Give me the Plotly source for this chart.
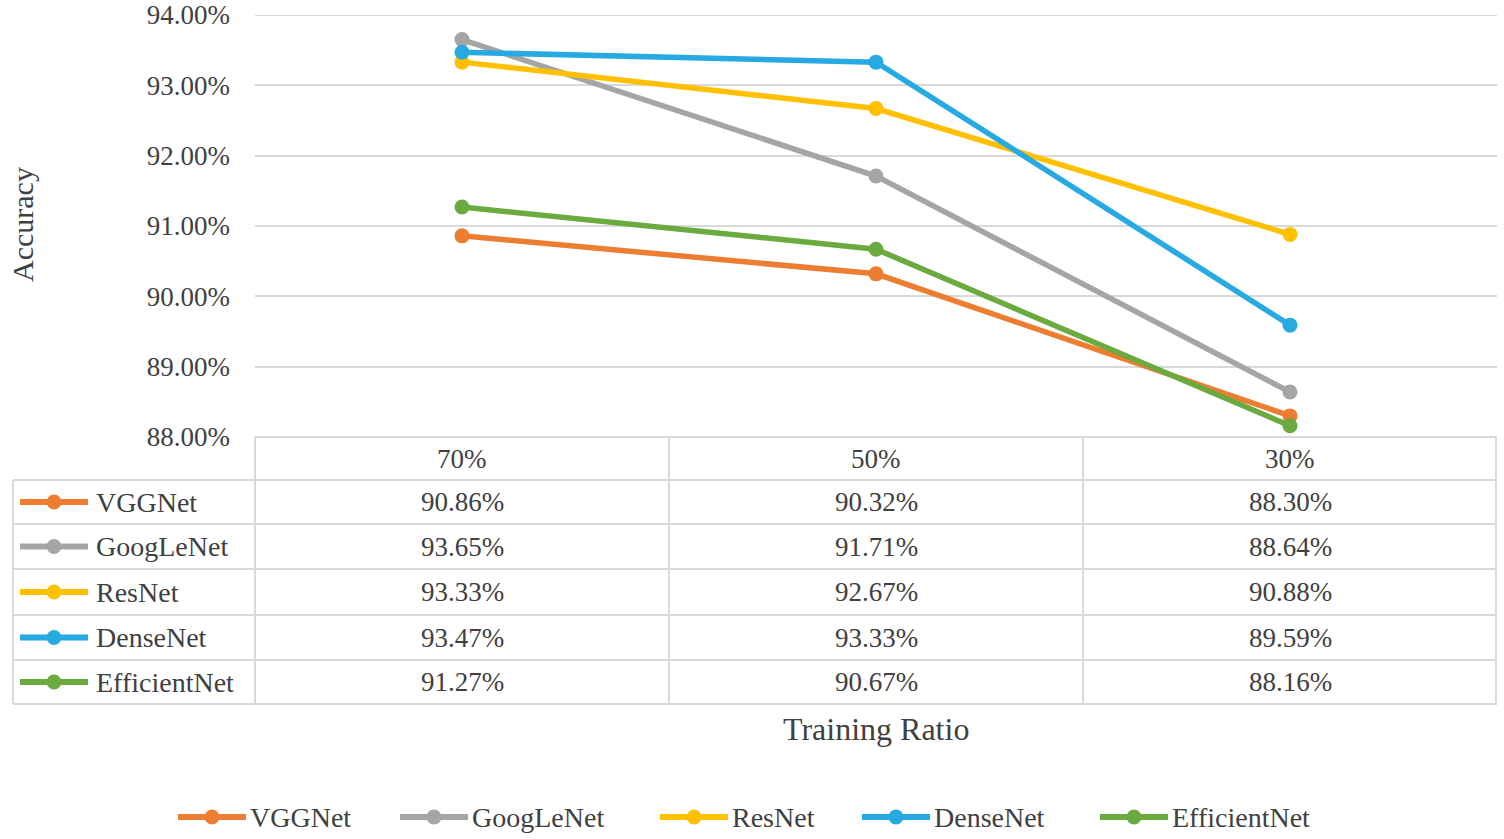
import plotly.graph_objects as go

categories = ["70%", "50%", "30%"]
series_names = ["VGGNet", "GoogLeNet", "ResNet", "DenseNet", "EfficientNet"]
vggnet = [90.86, 90.32, 88.30]
googlenet = [93.65, 91.71, 88.64]
resnet = [93.33, 92.67, 90.88]
densenet = [93.47, 93.33, 89.59]
efficientnet = [91.27, 90.67, 88.16]
colors = ["#ED7D31", "#A5A5A5", "#FFC000", "#27AAE1", "#6AAA3F"]
y_ticks = [88, 89, 90, 91, 92, 93, 94]

series_values = [vggnet, googlenet, resnet, densenet, efficientnet]

W, H = 1504, 839
# page coordinates of the plot area
L, R, T, B = 255, 1497, 15, 437
FONT = "Liberation Serif, Times New Roman, serif"
TXT = "#404040"
GRID = "#D9D9D9"
FS = 27


def px(x):
    return (x - L) / (R - L)


def py(y):
    return (B - y) / (B - T)


fig = go.Figure()
for name, vals, col in zip(series_names, series_values, colors):
    fig.add_trace(go.Scatter(
        x=categories, y=vals, name=name, mode="lines+markers",
        line=dict(color=col, width=5.5),
        marker=dict(color=col, size=15),
        cliponaxis=False, showlegend=False,
    ))

shapes = []
annotations = []


def legend_key(x_start, y_mid, col):
    shapes.append(dict(type="line", xref="paper", yref="paper", x0=px(x_start), x1=px(x_start + 68),
                       y0=py(y_mid), y1=py(y_mid), line=dict(color=col, width=6)))
    shapes.append(dict(type="circle", xref="paper", yref="paper", x0=px(x_start + 26.5), x1=px(x_start + 41.5),
                       y0=py(y_mid + 7.5), y1=py(y_mid - 7.5), fillcolor=col, line=dict(color=col, width=0)))


line = dict(color=GRID, width=2)
# top gridline at 94% (drawn explicitly so it is not dropped at the range edge)
shapes.append(dict(type="line", xref="paper", yref="y", x0=0, x1=1, y0=y_ticks[-1], y1=y_ticks[-1], line=line, layer="below"))
shapes.append(dict(type="line", xref="paper", yref="paper", x0=px(L), x1=px(R), y0=py(437), y1=py(437), line=line))
row_edges = [480, 524, 569, 615, 660, 704]
for ry in row_edges:
    shapes.append(dict(type="line", xref="paper", yref="paper", x0=px(13), x1=px(R), y0=py(ry), y1=py(ry), line=line))
for cx in [255, 669, 1083, 1496]:
    shapes.append(dict(type="line", xref="paper", yref="paper", x0=px(cx), x1=px(cx), y0=py(437), y1=py(704), line=line))
shapes.append(dict(type="line", xref="paper", yref="paper", x0=px(13), x1=px(13), y0=py(480), y1=py(704), line=line))

for c in categories:
    annotations.append(dict(x=c, xref="x", y=py(459), yref="paper", text=c, showarrow=False,
                            font=dict(family=FONT, size=FS, color=TXT), xanchor="center", yanchor="middle"))

for i, (name, vals, col) in enumerate(zip(series_names, series_values, colors)):
    cy = (row_edges[i] + row_edges[i + 1]) / 2
    legend_key(20, cy, col)
    annotations.append(dict(x=px(94), xref="paper", y=py(cy), yref="paper", text=name, showarrow=False,
                            font=dict(family=FONT, size=28, color=TXT), xanchor="left", yanchor="middle"))
    for c, v in zip(categories, vals):
        annotations.append(dict(x=c, xref="x", y=py(cy), yref="paper", text=f"{v:.2f}%", showarrow=False,
                                font=dict(family=FONT, size=FS, color=TXT), xanchor="center", yanchor="middle"))

# bottom legend (drawn as keys + text)
legend_starts = [178, 400, 660, 862, 1100]
legend_y = 817
for name, col, xs in zip(series_names, colors, legend_starts):
    legend_key(xs, legend_y, col)
    annotations.append(dict(x=px(xs + 70), xref="paper", y=py(legend_y), yref="paper", text=name, showarrow=False,
                            font=dict(family=FONT, size=28, color=TXT), xanchor="left", yanchor="middle"))

annotations.append(dict(x=px(876), xref="paper", y=py(729), yref="paper", text="Training Ratio", showarrow=False,
                        font=dict(family=FONT, size=32, color=TXT), xanchor="center", yanchor="middle"))
annotations.append(dict(x=px(22), xref="paper", y=py(225), yref="paper", text="Accuracy", showarrow=False,
                        textangle=-90, font=dict(family=FONT, size=30, color=TXT), xanchor="center", yanchor="middle"))

fig.update_layout(
    width=W, height=H,
    margin=dict(l=L, r=W - R, t=T, b=H - B, pad=0, autoexpand=False),
    paper_bgcolor="white", plot_bgcolor="white",
    font=dict(family=FONT, size=FS, color=TXT),
    showlegend=False,
    xaxis=dict(range=[-0.5, 2.5], showticklabels=False, showgrid=False, zeroline=False, showline=False,
               ticks="", automargin=False),
    yaxis=dict(range=[87.9999, 94.0001], tickvals=y_ticks, ticktext=[f"{t:.2f}%" for t in y_ticks],
               showgrid=True, gridcolor=GRID, gridwidth=2, zeroline=False, showline=False, automargin=False,
               ticks="", ticklabelstandoff=24, tickfont=dict(family=FONT, size=FS, color=TXT)),
    shapes=shapes, annotations=annotations,
)

fig.write_html("out.html", config={"displayModeBar": False},
               post_script="document.body.style.margin='0';document.body.style.overflow='hidden';")
